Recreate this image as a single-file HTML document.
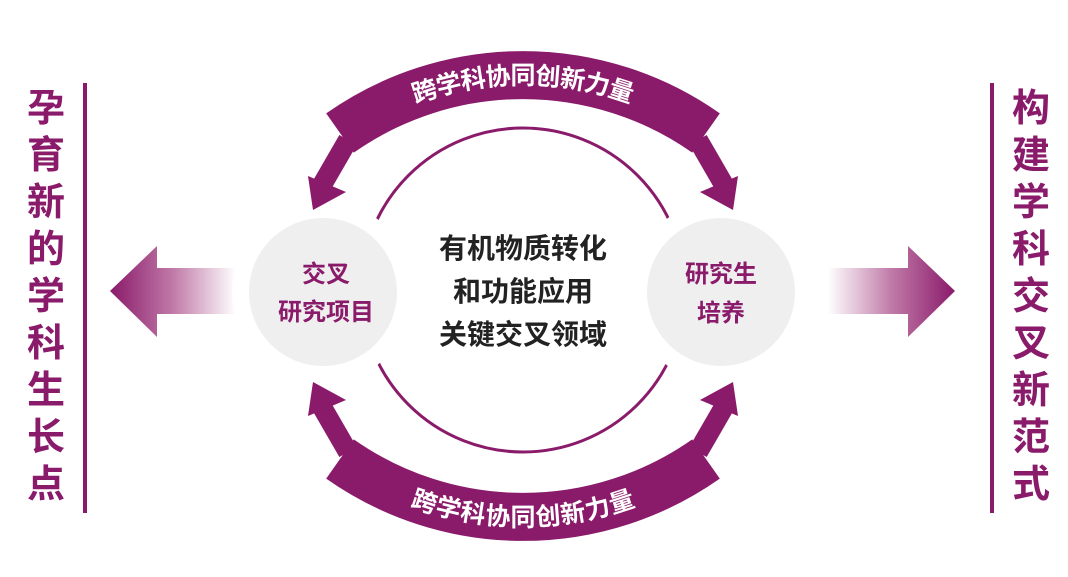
<!DOCTYPE html>
<html><head><meta charset="utf-8"><style>
html,body{margin:0;padding:0;background:#fff;}
svg{display:block;}
text{font-family:"Liberation Sans","Noto Sans CJK SC",sans-serif;font-weight:bold;}
</style></head><body>
<svg width="1068" height="577" viewBox="0 0 1068 577" xmlns="http://www.w3.org/2000/svg">
<defs>
<linearGradient id="gl" x1="110" y1="0" x2="236" y2="0" gradientUnits="userSpaceOnUse">
<stop offset="0" stop-color="#8a1a6a"/><stop offset="0.5" stop-color="#c07aa8"/><stop offset="1" stop-color="#ffffff"/></linearGradient>
<linearGradient id="gr" x1="828" y1="0" x2="955" y2="0" gradientUnits="userSpaceOnUse">
<stop offset="0" stop-color="#ffffff"/><stop offset="0.5" stop-color="#c07aa8"/><stop offset="1" stop-color="#8a1a6a"/></linearGradient>
<path id="tp" d="M 263 210 A 318 318 0 0 1 783 210" fill="none"/>
<path id="bp" d="M 263 382 A 318 318 0 0 0 783 382" fill="none"/>
</defs>
<rect x="83" y="83" width="4" height="430" fill="#8a1a6a"/>
<rect x="990" y="83" width="4" height="430" fill="#8a1a6a"/>
<g fill="#8a1a6a" font-size="38" text-anchor="middle">
<text x="46" y="121">孕</text><text x="46" y="168">育</text><text x="46" y="215">新</text>
<text x="46" y="262">的</text><text x="46" y="309">学</text><text x="46" y="356">科</text>
<text x="46" y="403">生</text><text x="46" y="450">长</text><text x="46" y="497">点</text>
<text x="1031" y="121">构</text><text x="1031" y="168">建</text><text x="1031" y="215">学</text>
<text x="1031" y="262">科</text><text x="1031" y="309">交</text><text x="1031" y="356">叉</text>
<text x="1031" y="403">新</text><text x="1031" y="450">范</text><text x="1031" y="497">式</text>
</g>
<polygon points="110,291 157,246 157,268 236,268 236,314 157,314 157,337" fill="url(#gl)"/>
<polygon points="955,291 908,246 908,268 828,268 828,314 908,314 908,337" fill="url(#gr)"/>
<circle cx="523" cy="290" r="162" fill="none" stroke="#8a1a6a" stroke-width="3"/>
<circle cx="323" cy="292" r="74" fill="#efefef" stroke="#fff" stroke-width="34"/>
<circle cx="721" cy="292" r="74" fill="#efefef" stroke="#fff" stroke-width="34"/>
<circle cx="323" cy="292" r="74" fill="#efefef"/>
<circle cx="721" cy="292" r="74" fill="#efefef"/>
<g id="band" fill="#8a1a6a">
<path d="M 340 133 A 318 318 0 0 1 706 133" fill="none" stroke="#8a1a6a" stroke-width="48"/>
<line x1="348" y1="140" x2="322" y2="185" stroke="#8a1a6a" stroke-width="20"/>
<polygon points="308,176 346,192 313,210"/>
<line x1="698" y1="140" x2="724" y2="185" stroke="#8a1a6a" stroke-width="20"/>
<polygon points="738,176 700,192 733,210"/>
</g>
<use href="#band" transform="translate(0,592) scale(1,-1)"/>
<text font-size="25" fill="#fff" dy="9"><textPath href="#tp" startOffset="50%" text-anchor="middle">跨学科协同创新力量</textPath></text>
<text font-size="25" fill="#fff" dy="9"><textPath href="#bp" startOffset="50%" text-anchor="middle">跨学科协同创新力量</textPath></text>
<g fill="#222" font-size="28" text-anchor="middle">
<text x="523" y="258">有机物质转化</text>
<text x="523" y="301">和功能应用</text>
<text x="523" y="344">关键交叉领域</text>
</g>
<g fill="#8a1a6a" font-size="24" text-anchor="middle">
<text x="326" y="282">交叉</text>
<text x="326" y="320">研究项目</text>
<text x="721" y="282">研究生</text>
<text x="721" y="321">培养</text>
</g>
</svg>
</body></html>
